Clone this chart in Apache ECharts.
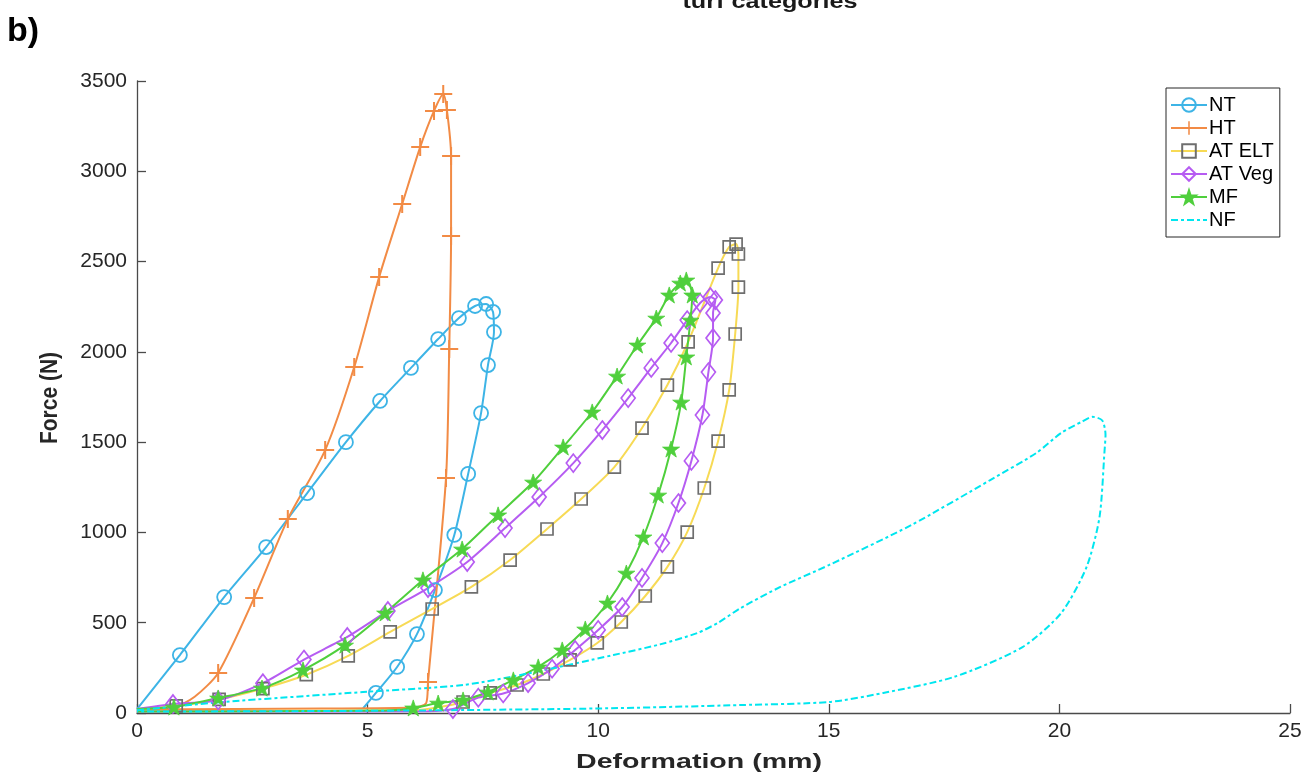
<!DOCTYPE html>
<html>
<head>
<meta charset="utf-8">
<title>Force-deformation loops, turf categories</title>
<script src="https://cdn.jsdelivr.net/npm/echarts@6/dist/echarts.min.js"></script>
<style>
  html, body { margin: 0; padding: 0; background: #fff; }
  #chart { width: 1314px; height: 778px; }
</style>
</head>
<body>
<div id="chart"></div>
<script>
// Force (N) against deformation (mm) for each turf category, one loading/unloading loop per category.
// "Start" and "tail" points are plain path points; "marked" points carry the series marker.

const seriesNames = ['NT', 'HT', 'AT ELT', 'AT Veg', 'MF', 'NF'];

const ntStart = [[0, 22]];
const ntMarked = [[0.93, 321], [1.89, 642], [2.80, 919], [3.69, 1218], [4.53, 1500], [5.27, 1728],
  [5.94, 1911], [6.53, 2071], [6.98, 2187], [7.33, 2254], [7.57, 2265], [7.72, 2221], [7.74, 2110],
  [7.61, 1927], [7.46, 1661], [7.18, 1324], [6.88, 986], [6.46, 681], [6.07, 437], [5.64, 255], [5.18, 111]];
const ntTail = [[4.9, 25]];

const htStart = [[0, 22], [0.8, 32], [1.25, 90]];
const htMarked = [[1.76, 222], [2.54, 637], [3.27, 1074], [4.08, 1456], [4.71, 1916], [5.25, 2414],
  [5.75, 2819], [6.14, 3134], [6.44, 3334], [6.64, 3428], [6.72, 3339], [6.81, 3085], [6.81, 2642],
  [6.77, 2016], [6.70, 1301], [6.31, 172]];
const htTail = [[6.27, 55], [6.0, 30], [4.0, 25], [0, 20]];

const eltStart = [[0, 22]];
const eltMarked = [[0.85, 40], [1.78, 75], [2.73, 135], [3.67, 212], [4.58, 316], [5.49, 449],
  [6.40, 576], [7.25, 698], [8.09, 847], [8.89, 1019], [9.63, 1185], [10.35, 1362], [10.95, 1578],
  [11.50, 1816], [11.95, 2055], [12.60, 2464], [12.84, 2581], [12.99, 2597], [13.04, 2542],
  [13.04, 2359], [12.97, 2099], [12.84, 1789], [12.60, 1506], [12.30, 1246], [11.93, 1002],
  [11.50, 809], [11.02, 648], [10.50, 504], [9.98, 388], [9.39, 294], [8.81, 216], [8.24, 155],
  [7.66, 111], [7.07, 61]];
const eltTail = [[6.5, 30], [6.0, 15], [3.0, 12], [0, 10]];

const vegStart = [[0, 22]];
const vegMarked = [[0.78, 50], [1.76, 70], [2.73, 165], [3.62, 296], [4.56, 421], [5.44, 565],
  [6.31, 692], [7.16, 836], [7.98, 1024], [8.72, 1196], [9.46, 1384], [10.09, 1567], [10.65, 1744],
  [11.15, 1911], [11.58, 2049], [11.93, 2176], [12.21, 2271], [12.43, 2304], [12.54, 2287],
  [12.49, 2215], [12.49, 2077], [12.39, 1888], [12.26, 1650], [12.02, 1396], [11.74, 1163],
  [11.39, 941], [10.95, 748], [10.52, 587], [10.00, 460], [9.50, 349], [9.00, 245], [8.48, 166],
  [7.94, 108], [7.40, 85], [6.85, 22]];
const vegTail = [[6.3, 10], [3.0, 8], [0, 8]];

const mfStart = [[0, 22]];
const mfMarked = [[0.80, 33], [1.76, 83], [2.71, 138], [3.60, 238], [4.51, 376], [5.38, 554],
  [6.20, 737], [7.05, 908], [7.83, 1097], [8.59, 1279], [9.24, 1473], [9.87, 1667], [10.41, 1866],
  [10.85, 2038], [11.26, 2187], [11.54, 2315], [11.78, 2381], [11.91, 2398], [12.04, 2315],
  [12.00, 2176], [11.91, 1972], [11.80, 1722], [11.58, 1462], [11.30, 1207], [10.98, 975],
  [10.61, 775], [10.20, 609], [9.72, 465], [9.22, 349], [8.70, 255], [8.16, 183], [7.61, 116],
  [7.07, 72], [6.53, 55], [5.99, 28]];
const mfTail = [[5.5, 15], [3.0, 10], [0, 8]];

const nfPath = [[0, 15], [1.87, 61], [4.9, 116], [7.07, 155], [8.52, 221], [10.33, 321], [11.34, 380],
  [12.15, 443], [12.6, 500], [13.08, 580], [13.95, 698], [15.01, 820], [16.79, 1041], [18.50, 1290],
  [19.50, 1440], [20.04, 1551], [20.5, 1615], [20.72, 1640], [20.93, 1620], [21.0, 1540],
  [20.98, 1456], [20.87, 1085], [20.59, 809], [20.04, 554], [19.20, 365], [17.72, 200],
  [16.18, 111], [15.01, 61], [13.08, 44], [10.0, 25], [5.0, 12], [0, 8]];

const xTicks = [0, 5, 10, 15, 20, 25];
const yTicks = [0, 500, 1000, 1500, 2000, 2500, 3000, 3500];

const FONT = '"Liberation Sans", Arial, Helvetica, sans-serif';
const INK = '#262626';

const STAR = 'path://M50,0 L61.8,35.5 L99,35.5 L68.8,57.5 L80.2,93 L50,71 L19.8,93 L31.2,57.5 L1,35.5 L38.2,35.5 Z';
const PLUS = 'path://M7.1,0 H8.9 V7.1 H16 V8.9 H8.9 V16 H7.1 V8.9 H0 V7.1 H7.1 Z';

function buildData(start, marked, tail) {
  const plain = p => ({ value: p, symbol: 'none' });
  return start.map(plain).concat(marked.map(p => ({ value: p })), tail.map(plain));
}

function loopSeries(name, data, lineColor, marker) {
  return {
    name: name,
    type: 'line',
    data: data,
    smooth: 0.25,
    symbol: marker.symbol,
    symbolSize: marker.size,
    symbolKeepAspect: true,
    lineStyle: { color: lineColor, width: 2, type: marker.dash || 'solid' },
    itemStyle: {
      color: marker.fill,
      borderColor: marker.stroke,
      borderWidth: marker.borderWidth
    },
    emphasis: { disabled: true },
    animation: false
  };
}

const chart = echarts.init(document.getElementById('chart'), null, { renderer: 'canvas' });

const tickLabel = { color: INK, fontFamily: FONT, fontSize: 21, formatter: v => String(v) };

const option = {
  backgroundColor: '#ffffff',
  animation: false,
  grid: { left: 137, right: 24, top: 81, bottom: 65, containLabel: false },
  xAxis: {
    type: 'value', min: xTicks[0], max: xTicks[xTicks.length - 1], interval: 5,
    axisLine: { show: true, onZero: false, lineStyle: { color: '#4a4a4a', width: 1.3 } },
    axisTick: { show: true, inside: true, length: 9, lineStyle: { color: '#4a4a4a', width: 1.3 } },
    axisLabel: Object.assign({ margin: 8 }, tickLabel),
    splitLine: { show: false }
  },
  yAxis: {
    type: 'value', min: yTicks[0], max: yTicks[yTicks.length - 1], interval: 500,
    axisLine: { show: true, onZero: false, lineStyle: { color: '#4a4a4a', width: 1.3 } },
    axisTick: { show: true, inside: true, length: 9, lineStyle: { color: '#4a4a4a', width: 1.3 } },
    axisLabel: Object.assign({ margin: 10 }, tickLabel),
    splitLine: { show: false }
  },
  legend: {
    orient: 'vertical',
    left: 1166, top: 88,
    padding: [7, 6, 7, 4],
    itemWidth: 36, itemHeight: 17, itemGap: 3,
    backgroundColor: '#ffffff',
    borderColor: INK, borderWidth: 1, borderRadius: 0,
    textStyle: { color: '#000', fontFamily: FONT, fontSize: 20, lineHeight: 19, padding: [0, 0, 0, -3] },
    data: seriesNames.map(n => n === 'NF'
      ? { name: n, itemStyle: { color: 'rgba(0,0,0,0)', borderColor: 'rgba(0,0,0,0)', borderWidth: 0 } }
      : { name: n })
  },
  graphic: [
    {
      type: 'text', x: 770, y: 13, scaleX: 1.2,
      style: { text: 'turf categories', font: 'bold 21px ' + FONT, fill: '#1a1a1a',
        textAlign: 'center', textVerticalAlign: 'bottom' }
    },
    {
      type: 'text', x: 7, y: 15,
      style: { text: 'b)', font: 'bold 34px ' + FONT, fill: '#000', textAlign: 'left', textVerticalAlign: 'top' }
    },
    {
      type: 'text', x: 699, y: 762, scaleX: 1.36,
      style: { text: 'Deformation (mm)', font: 'bold 21px ' + FONT, fill: INK,
        textAlign: 'center', textVerticalAlign: 'middle' }
    },
    {
      type: 'text', x: 50, y: 398, rotation: Math.PI / 2, scaleY: 1.15,
      style: { text: 'Force (N)', font: 'bold 21px ' + FONT, fill: INK,
        textAlign: 'center', textVerticalAlign: 'middle' }
    }
  ],
  series: [
    loopSeries('NT', buildData(ntStart, ntMarked, ntTail), '#3db4e6',
      { symbol: 'circle', size: 14, fill: 'rgba(255,255,255,0)', stroke: '#3db4e6', borderWidth: 1.8 }),
    loopSeries('HT', buildData(htStart, htMarked, htTail), '#f28b45',
      { symbol: PLUS, size: 18, fill: '#f28b45', stroke: 'rgba(0,0,0,0)', borderWidth: 0 }),
    loopSeries('AT ELT', buildData(eltStart, eltMarked, eltTail), '#f7da55',
      { symbol: 'rect', size: 12, fill: 'rgba(255,255,255,0)', stroke: '#6e6e6e', borderWidth: 1.7 }),
    loopSeries('AT Veg', buildData(vegStart, vegMarked, vegTail), '#b65cf2',
      { symbol: 'diamond', size: [14, 18], fill: 'rgba(255,255,255,0)', stroke: '#b65cf2', borderWidth: 1.7 }),
    loopSeries('MF', buildData(mfStart, mfMarked, mfTail), '#4fcf3c',
      { symbol: STAR, size: 17, fill: '#4fcf3c', stroke: '#4fcf3c', borderWidth: 0.8 }),
    loopSeries('NF', buildData(nfPath, [], []), '#00e6ef',
      { symbol: 'none', size: 0, fill: '#00e6ef', stroke: '#00e6ef', borderWidth: 0, dash: [7, 3, 3, 3] })
  ]
};

chart.setOption(option);
</script>
</body>
</html>
